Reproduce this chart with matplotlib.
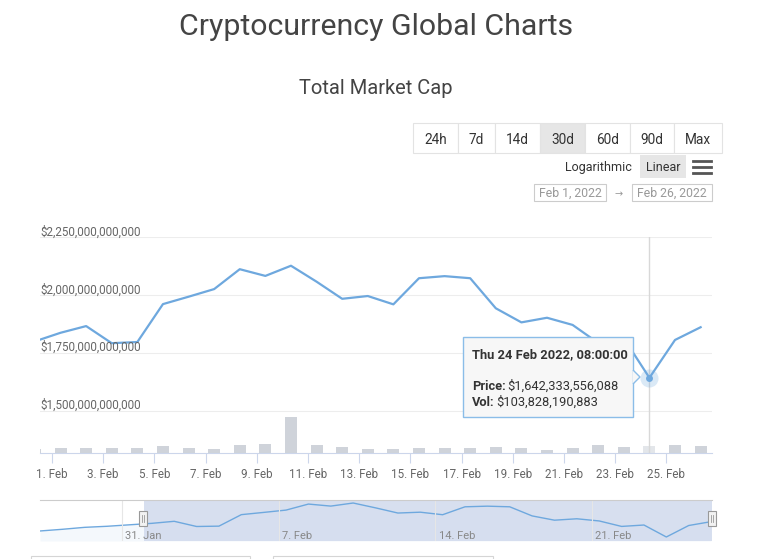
import numpy as np
import pandas as pd
import matplotlib
matplotlib.use("Agg")
import matplotlib.pyplot as plt
import matplotlib.dates as mdates
from matplotlib.patches import Rectangle, Polygon

plt.rcParams['font.family'] = ['Roboto', 'DejaVu Sans']

W, H = 770, 559

# daily snapshots (08:00), values in billions of USD
dates = pd.date_range("2022-01-31 08:00", "2022-02-26 08:00", freq="D")
market_cap = [1800, 1837, 1866, 1792, 1797, 1961, 1993, 2026, 2112, 2083, 2127,
              2058, 1984, 1996, 1960, 2073, 2082, 2073, 1943, 1882, 1902, 1871,
              1793, 1813, 1642.33, 1806, 1861]
volume = [50, 75, 75, 75, 75, 104, 75, 61, 118, 132, 514, 118, 90, 61, 61,
          75, 75, 75, 90, 75, 47, 75, 113, 90, 103.83, 113, 104]

# navigator also shows the days before the selected range
nav_pre_dates = pd.date_range("2022-01-27 08:00", "2022-01-30 08:00", freq="D")
nav_pre_cap = [1728, 1752, 1780, 1795]

yticks = [1500, 1750, 2000, 2250]
ytick_labels = ["$1,500,000,000,000", "$1,750,000,000,000",
                "$2,000,000,000,000", "$2,250,000,000,000"]
xtick_days = pd.date_range("2022-02-01", "2022-02-25", freq="2D")
nav_tick_days = pd.date_range("2022-01-31", "2022-02-21", freq="7D")
range_buttons = ["24h", "7d", "14d", "30d", "60d", "90d", "Max"]

line_col = "#6ea8de"
bar_col = "#cfd3da"
grid_col = "#ededed"
axis_col = "#ccd6eb"
txt_col = "#666666"


def fx(x):
    return x / W


def fy(y):
    return 1 - y / H


def box(x0, y0, x1, y1):
    return [fx(x0), fy(y1), (x1 - x0) / W, (y1 - y0) / H]


fig = plt.figure(figsize=(W / 100, H / 100), dpi=100)

# headings
fig.text(fx(376), fy(35), "Cryptocurrency Global Charts", ha="center",
         va="baseline", fontsize=21.8, color="#444444")
fig.text(fx(376), fy(94), "Total Market Cap", ha="center", va="baseline",
         fontsize=14.5, color="#444444")

# range buttons
edges = [413, 458, 495, 540, 585, 630, 674, 722]
for i, lab in enumerate(range_buttons):
    fc = "#e6e6e6" if lab == "30d" else "white"
    fig.patches.append(Rectangle((fx(edges[i]), fy(153)), (edges[i + 1] - edges[i]) / W,
                                 30 / H, transform=fig.transFigure, fc=fc,
                                 ec="#e3e3e3", lw=0.8))
    fig.text(fx((edges[i] + edges[i + 1]) / 2), fy(144.5), lab, ha="center",
             va="baseline", fontsize=9.8, color="#333333")

fig.text(fx(632), fy(171), "Logarithmic", ha="right", va="baseline",
         fontsize=9, color="#333333")
fig.patches.append(Rectangle((fx(640), fy(178)), 46 / W, 23 / H,
                             transform=fig.transFigure, fc="#e6e6e6", ec="none"))
fig.text(fx(663), fy(171), "Linear", ha="center", va="baseline",
         fontsize=9, color="#333333")
for yy in (161, 167, 173):
    fig.lines.append(plt.Line2D([fx(693), fx(711)], [fy(yy), fy(yy)],
                                transform=fig.transFigure, color="#555555", lw=2))

for (x0, x1), lab in zip([(534, 606), (632, 712)], ["Feb 1, 2022", "Feb 26, 2022"]):
    fig.patches.append(Rectangle((fx(x0), fy(201)), (x1 - x0) / W, 17 / H,
                                 transform=fig.transFigure, fc="white",
                                 ec="#cccccc", lw=0.8))
    fig.text(fx((x0 + x1) / 2), fy(197), lab, ha="center", va="baseline",
             fontsize=8.8, color="#999999")
fig.text(fx(619), fy(197), "\u2192", ha="center", va="baseline",
         fontsize=7, color="#999999")

# main chart
ax = fig.add_axes(box(40, 237.3, 712, 453))
axv = ax.twinx()
ax.set_zorder(axv.get_zorder() + 1)
ax.patch.set_visible(False)

xnum = mdates.date2num(dates)
x0 = mdates.date2num(pd.Timestamp("2022-01-31 12:45"))
x1 = mdates.date2num(pd.Timestamp("2022-02-26 18:40"))

bar_colors = [bar_col] * len(volume)
bar_colors[dates.get_loc(pd.Timestamp("2022-02-24 08:00"))] = "#e3e6ea"
axv.bar(xnum, volume, width=0.47, color=bar_colors, zorder=1)
axv.set_ylim(0, 3067)
axv.set_yticks([])

ax.plot(xnum, market_cap, color=line_col, lw=1.6, zorder=3,
        solid_joinstyle="round")
ax.set_xlim(x0, x1)
axv.set_xlim(x0, x1)
ax.set_ylim(1317, 2250)

ax.set_yticks(yticks)
ax.yaxis.grid(True, color=grid_col, lw=0.8)
ax.tick_params(axis="y", length=0, labelleft=False)
for v, lab in zip(yticks, ytick_labels):
    ax.annotate(lab, xy=(0, v), xycoords=("axes fraction", "data"),
                xytext=(0, 1.2), textcoords="offset points", ha="left",
                va="baseline", fontsize=8.4, color=txt_col)

ax.set_xticks(mdates.date2num(xtick_days))
ax.set_xticklabels([f"{d.day}. Feb" for d in xtick_days], fontsize=8.4,
                   color=txt_col)
ax.tick_params(axis="x", direction="out", length=7, width=0.8, color=axis_col,
               pad=4)
for s in ["top", "left", "right"]:
    ax.spines[s].set_visible(False)
    axv.spines[s].set_visible(False)
ax.spines["bottom"].set_color(axis_col)
axv.spines["bottom"].set_visible(False)

# hovered point
hx = mdates.date2num(pd.Timestamp("2022-02-24 08:00"))
hv = market_cap[dates.get_loc(pd.Timestamp("2022-02-24 08:00"))]
ax.axvline(hx, color="#d8d8d8", lw=1, zorder=2)
ax.plot([hx], [hv], "o", ms=13, color=line_col, alpha=0.25, mec="none", zorder=4)
ax.plot([hx], [hv], "o", ms=5, color=line_col, mec="none", zorder=5)

# tooltip
tip_col = "#8bbde8"
fig.patches.append(Polygon([(fx(633), fy(370)), (fx(640), fy(377)), (fx(633), fy(384))],
                           closed=False, transform=fig.transFigure,
                           fc="#f7f7f7", ec=tip_col, lw=1, zorder=10))
fig.patches.append(Rectangle((fx(463), fy(417)), 170 / W, 80 / H,
                             transform=fig.transFigure, fc="#f7f7f7",
                             ec=tip_col, lw=1, zorder=9))
fig.text(fx(472), fy(358), "Thu 24 Feb 2022, 08:00:00", fontsize=9.3,
         fontweight="bold", color="#333333", va="baseline", zorder=11)
fig.text(fx(472), fy(390), "Price:", fontsize=9.3, fontweight="bold",
         color="#333333", va="baseline", zorder=11)
fig.text(fx(507), fy(390), "$1,642,333,556,088", fontsize=9.3,
         color="#333333", va="baseline", zorder=11)
fig.text(fx(472), fy(406), "Vol:", fontsize=9.3, fontweight="bold",
         color="#333333", va="baseline", zorder=11)
fig.text(fx(496), fy(406), "$103,828,190,883", fontsize=9.3,
         color="#333333", va="baseline", zorder=11)

# navigator
nav = fig.add_axes(box(40, 500, 712, 541))
nav_x = np.concatenate([mdates.date2num(nav_pre_dates), xnum[1:]])
nav_y = list(nav_pre_cap) + market_cap[1:]
n0 = mdates.date2num(pd.Timestamp("2022-01-27 08:00"))
n1 = mdates.date2num(pd.Timestamp("2022-02-26 09:00"))
nav.set_xlim(n0, n1)
nav.set_ylim(1585, 2170)
nav.fill_between(nav_x, nav_y, 1585, color=line_col, alpha=0.07, lw=0)
nav.plot(nav_x, nav_y, color=line_col, lw=1)
sel0 = mdates.date2num(pd.Timestamp("2022-02-01 00:00"))
nav.axvspan(sel0, n1, color="#d1daed", alpha=0.85, lw=0)
for d in nav_tick_days:
    dn = mdates.date2num(d)
    nav.axvline(dn, color="#e6e6e6", lw=0.8)
    nav.annotate(d.strftime("%-d. %b"), xy=(dn, 1620), xytext=(2.5, 0),
                 textcoords="offset points", fontsize=8, color="#888888",
                 ha="left", va="baseline", fontstretch="condensed")
nav.set_xticks([])
nav.set_yticks([])
for s in ["left", "right", "bottom"]:
    nav.spines[s].set_visible(False)
nav.spines["top"].set_color("#cccccc")
for hxp in (143, 712):
    fig.patches.append(Rectangle((fx(hxp - 4), fy(526)), 8 / W, 15 / H,
                                 transform=fig.transFigure, fc="#f2f2f2",
                                 ec="#999999", lw=0.8, zorder=10))
    for dx in (-1.2, 1.2):
        fig.lines.append(plt.Line2D([fx(hxp + dx)] * 2, [fy(522), fy(515)],
                                    transform=fig.transFigure, color="#999999",
                                    lw=0.6, zorder=11))

# page boxes cut off at the bottom
for bx0, bx1 in [(31, 250), (273, 493)]:
    fig.patches.append(Rectangle((fx(bx0), fy(575)), (bx1 - bx0) / W, 19 / H,
                                 transform=fig.transFigure, fc="white",
                                 ec="#d5d5d5", lw=0.8))

fig.savefig("out.png", dpi=100)
